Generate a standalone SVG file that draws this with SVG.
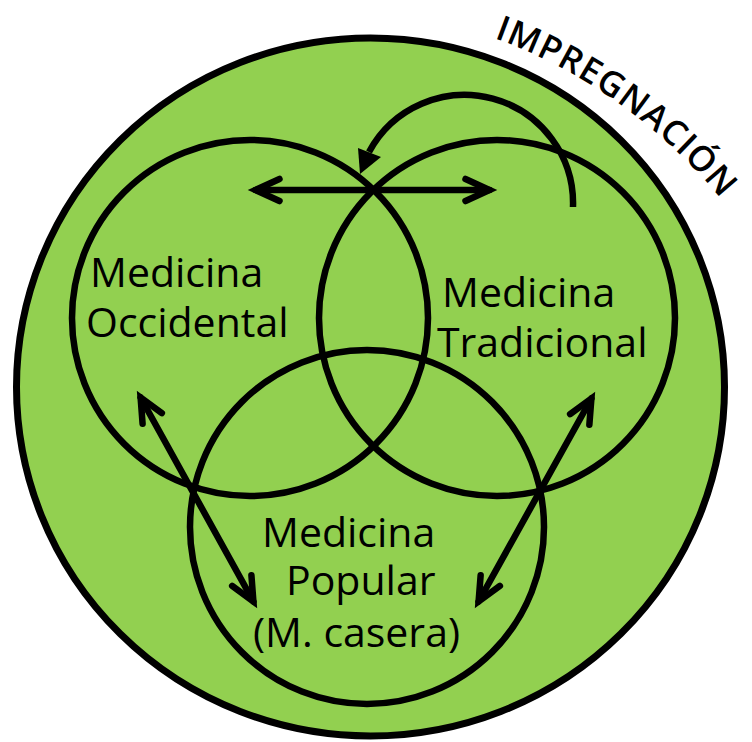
<svg xmlns="http://www.w3.org/2000/svg" width="752" height="742" viewBox="0 0 752 742">
  <style>
    .ring { fill: none; stroke: #000; stroke-width: 6.5; }
    .lbl { font-family: "Open Sans", "DejaVu Sans", sans-serif; font-size: 41px; fill: #000; }
    .arr { fill: none; stroke: #000; stroke-width: 6.5; stroke-linecap: round; }
    .title { font-family: "Open Sans", "DejaVu Sans", sans-serif; font-size: 35px; font-weight: 600; fill: #000; letter-spacing: 1px; }
  </style>
  <defs>
    <marker id="chev" markerUnits="userSpaceOnUse" orient="auto-start-reverse" refX="0" refY="0" markerWidth="1" markerHeight="1" overflow="visible">
      <path d="M-24,-11 L0,0 L-24,11" fill="none" stroke="#000" stroke-width="6.5" stroke-linecap="round" stroke-linejoin="miter"/>
    </marker>
    <path id="tp" d="M494,38 A520,520 0 0 1 788.5,306.9"/>
  </defs>

  <g id="impregnacion">
    <ellipse cx="370.5" cy="387" rx="354" ry="349" fill="#92D050" stroke="#000" stroke-width="7"/>
    <text class="title"><textPath href="#tp">IMPREGNACIÓN</textPath></text>
  </g>

  <g id="occidental">
    <circle class="ring" cx="250" cy="318" r="178"/>
    <text class="lbl" x="90" y="287">Medicina</text>
    <text class="lbl" x="86" y="337">Occidental</text>
  </g>

  <g id="tradicional">
    <circle class="ring" cx="497" cy="318" r="178"/>
    <text class="lbl" x="442" y="307">Medicina</text>
    <text class="lbl" x="437" y="357">Tradicional</text>
  </g>

  <g id="popular">
    <circle class="ring" cx="367" cy="527" r="177"/>
    <text class="lbl" x="262" y="547">Medicina</text>
    <text class="lbl" x="286" y="595">Popular</text>
    <text class="lbl" x="253" y="647">(M. casera)</text>
  </g>

  <g id="connectors">
    <path class="arr" d="M255.5,190 L489.5,190" marker-start="url(#chev)" marker-end="url(#chev)"/>
    <path class="arr" d="M140.6,397.5 L253.4,601.5" marker-start="url(#chev)" marker-end="url(#chev)"/>
    <path class="arr" d="M591.4,398.5 L478.6,601.5" marker-start="url(#chev)" marker-end="url(#chev)"/>
    <path d="M573,207 A108.5,108.5 0 0 0 369,152" fill="none" stroke="#000" stroke-width="6.5"/>
    <polygon points="360,174 358,148 381,157" fill="#000"/>
  </g>
</svg>
